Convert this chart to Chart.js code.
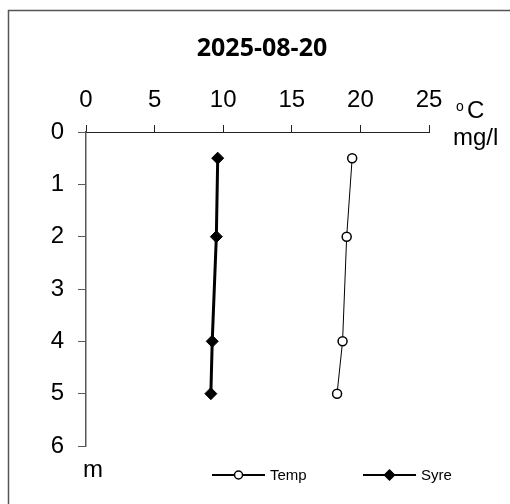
<!DOCTYPE html>
<html>
<head>
<meta charset="utf-8">
<script src="https://cdn.jsdelivr.net/npm/chart.js@4"></script>
<style>
  body { margin: 0; background: #fff; }
  #wrap { width: 510px; height: 504px; position: relative; }
</style>
</head>
<body>
<div id="wrap"><canvas id="profileChart"></canvas></div>
<script>
var depths = [0.5, 2, 4, 5];
var tempValues = [19.4, 19.0, 18.7, 18.3];
var syreValues = [9.6, 9.5, 9.2, 9.1];
var seriesNames = ['Temp', 'Syre'];
var titleText = '2025-08-20';
var xUnitTop = 'C';
var xUnitBottom = 'mg/l';
var yUnit = 'm';

function toPoints(values) {
    return values.map(function (v, i) { return { x: v, y: depths[i] }; });
}

var labelFont = "'Liberation Sans', Arial, sans-serif";

// frame, title, unit labels and the line+marker legend
var extras = {
    id: 'extras',
    afterDraw: function (chart) {
        var ctx = chart.ctx;
        var area = chart.chartArea;
        ctx.save();
        ctx.strokeStyle = '#555';
        ctx.lineWidth = 1.5;
        ctx.strokeRect(8.5, 10.5, 700, 700);

        // title is centred on the whole frame, not on the plot
        ctx.fillStyle = '#000';
        ctx.textAlign = 'center';
        ctx.textBaseline = 'middle';
        ctx.font = "bold 25px 'Open Sans', sans-serif";
        ctx.fillText(titleText, 262, 49);

        ctx.textBaseline = 'alphabetic';
        ctx.textAlign = 'left';
        ctx.font = '14px ' + labelFont;
        ctx.fillText('o', area.right + 27, 111);
        ctx.font = '24px ' + labelFont;
        ctx.fillText(xUnitTop, area.right + 38, 118);
        ctx.fillText(xUnitBottom, area.right + 24, 145);
        ctx.fillText(yUnit, area.left - 3, 477);

        var ly = 475;
        var items = [
            { x: 212, ds: chart.data.datasets[0] },
            { x: 363, ds: chart.data.datasets[1] }
        ];
        items.forEach(function (it) {
            var cx = it.x + 26.5;
            ctx.strokeStyle = '#000';
            ctx.lineWidth = 2;
            ctx.beginPath();
            ctx.moveTo(it.x, ly);
            ctx.lineTo(it.x + 53, ly);
            ctx.stroke();
            ctx.fillStyle = it.ds.pointBackgroundColor;
            ctx.lineWidth = 1.5;
            ctx.beginPath();
            if (it.ds.pointStyle === 'circle') {
                ctx.arc(cx, ly, 4, 0, Math.PI * 2);
            } else {
                ctx.moveTo(cx, ly - 5);
                ctx.lineTo(cx + 5, ly);
                ctx.lineTo(cx, ly + 5);
                ctx.lineTo(cx - 5, ly);
                ctx.closePath();
            }
            ctx.fill();
            ctx.stroke();
            ctx.fillStyle = '#000';
            ctx.font = '15px ' + labelFont;
            ctx.textBaseline = 'middle';
            ctx.fillText(it.ds.label, it.x + 58, ly + 1);
        });
        ctx.restore();
    }
};

var ctx = document.getElementById('profileChart').getContext('2d');
var chart = new Chart(ctx, {
    type: 'scatter',
    data: {
        datasets: [{
            label: seriesNames[0],
            data: toPoints(tempValues),
            showLine: true,
            borderColor: '#000',
            borderWidth: 1,
            pointStyle: 'circle',
            pointRadius: 4.5,
            pointBorderWidth: 1.5,
            pointBackgroundColor: '#fff',
            pointBorderColor: '#000'
        }, {
            label: seriesNames[1],
            data: toPoints(syreValues),
            showLine: true,
            borderColor: '#000',
            borderWidth: 3,
            pointStyle: 'rectRot',
            pointRadius: 6,
            pointBorderWidth: 1,
            pointBackgroundColor: '#000',
            pointBorderColor: '#000'
        }]
    },
    options: {
        responsive: true,
        maintainAspectRatio: false,
        animation: false,
        layout: {
            padding: { left: 0, right: 81, top: 69, bottom: 58 }
        },
        plugins: {
            legend: { display: false },
            tooltip: { enabled: false },
            title: { display: false }
        },
        scales: {
            x: {
                type: 'linear',
                position: 'top',
                min: 0,
                max: 25,
                afterFit: function (scale) { scale.height = 63; },
                ticks: {
                    stepSize: 5,
                    color: '#000',
                    padding: 10,
                    maxRotation: 0,
                    font: { family: labelFont, size: 24 }
                },
                grid: {
                    drawOnChartArea: false,
                    tickLength: 7,
                    color: '#222'
                },
                border: { color: '#222', width: 1 }
            },
            y: {
                type: 'linear',
                reverse: true,
                min: 0,
                max: 6,
                afterFit: function (scale) { scale.width = 86; },
                ticks: {
                    stepSize: 1,
                    color: '#000',
                    padding: 14,
                    font: { family: labelFont, size: 24 }
                },
                grid: {
                    drawOnChartArea: false,
                    tickLength: 8,
                    color: '#595959'
                },
                border: { color: '#595959', width: 1.5 }
            }
        }
    },
    plugins: [extras]
});
</script>
</body>
</html>
